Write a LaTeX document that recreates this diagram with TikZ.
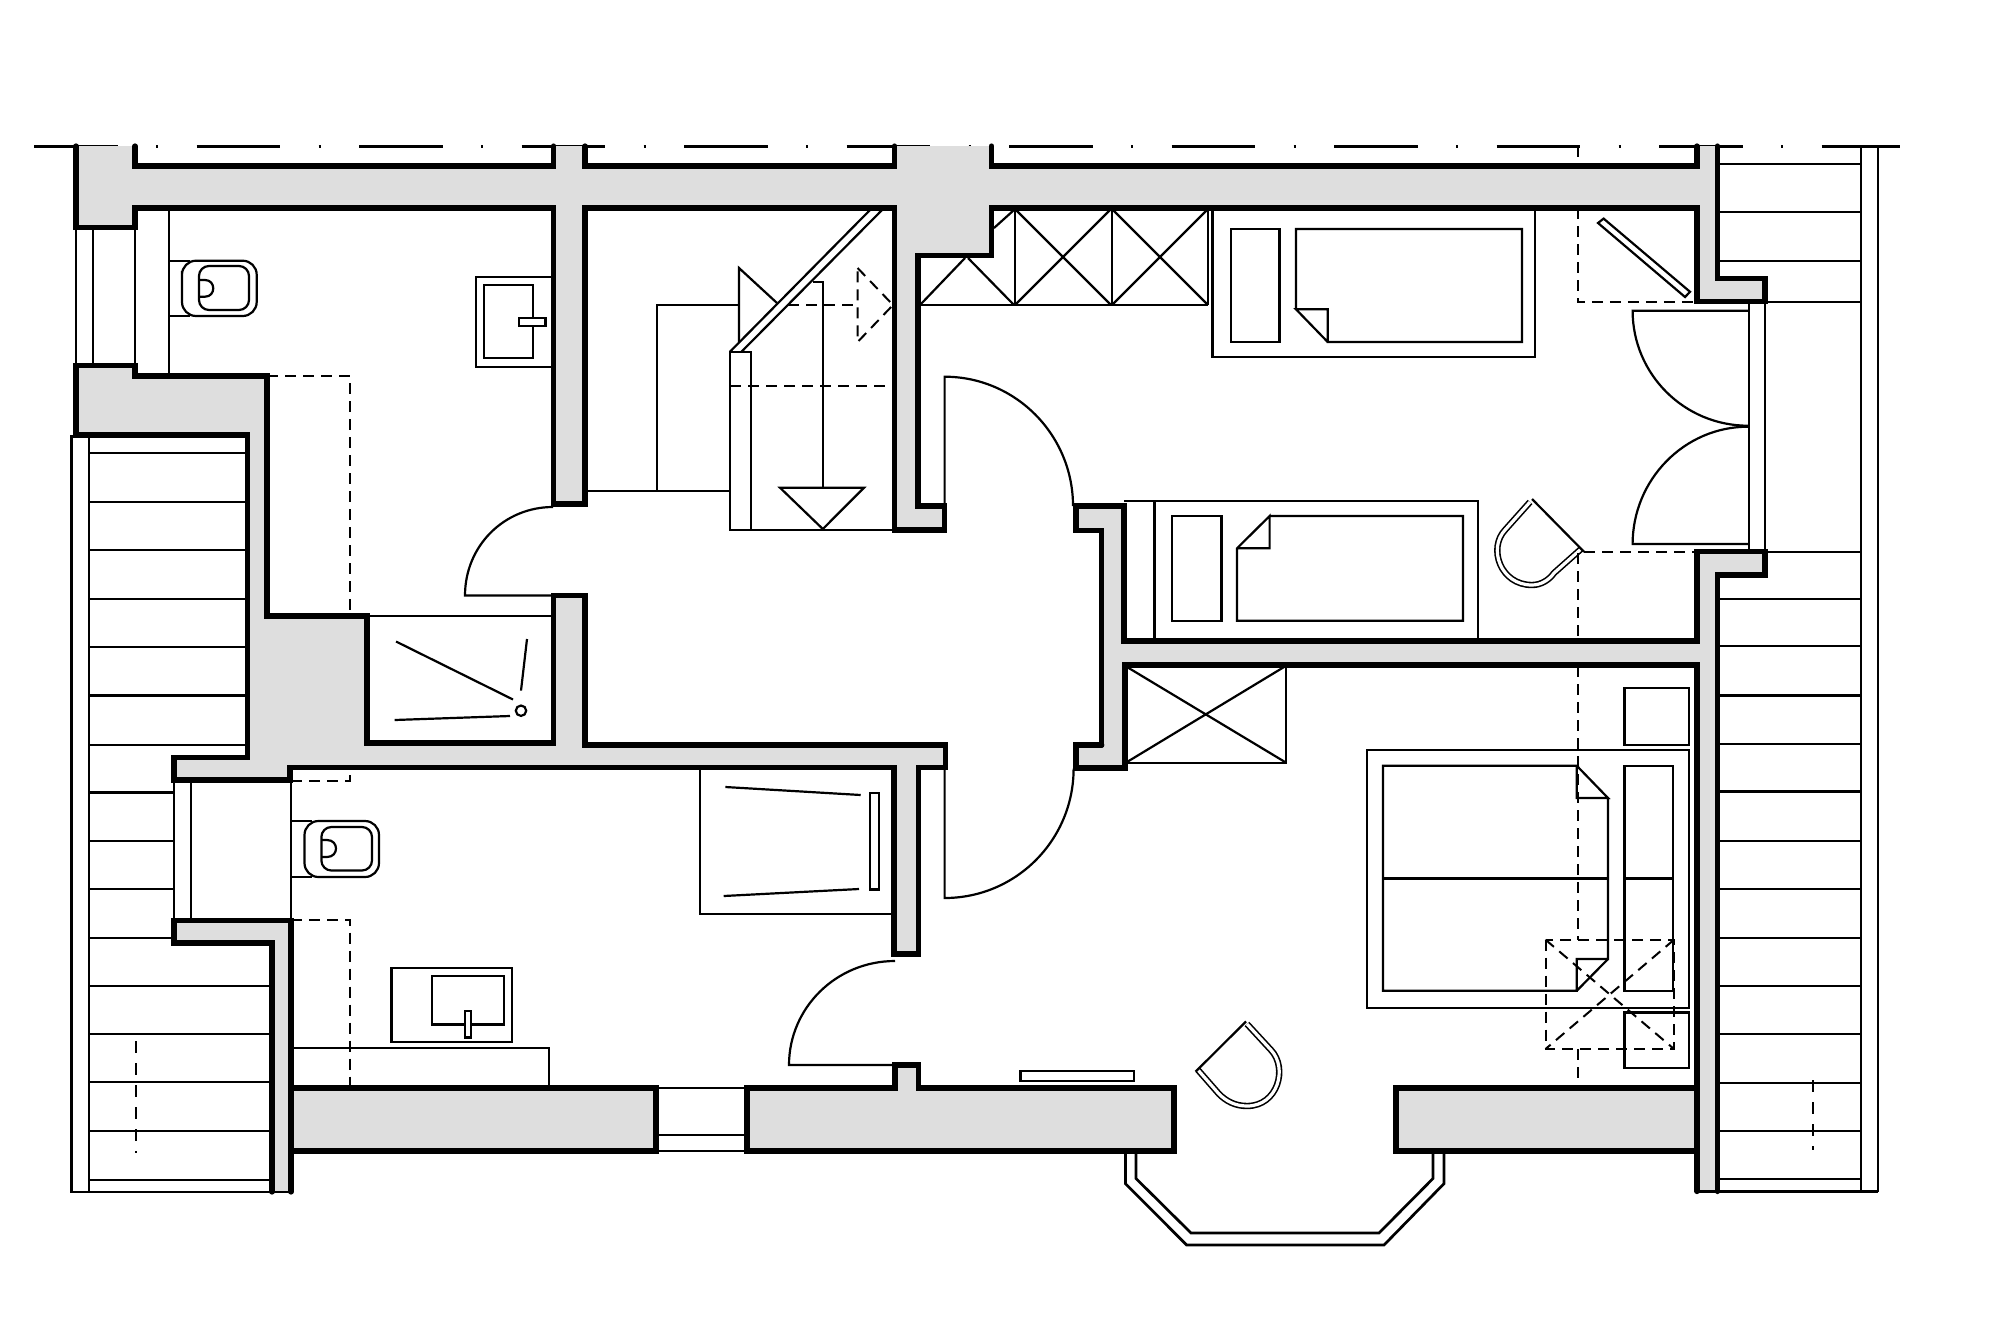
\documentclass[tikz,border=0pt]{standalone}
\definecolor{wallgray}{HTML}{DEDEDE}
\tikzset{
  wall/.style={line width=2.6pt,line cap=round,line join=miter},
  mid/.style={line width=1.35pt},
  thin/.style={line width=1.1pt,line join=miter},
  dsh/.style={line width=1pt,dash pattern=on 5.5pt off 3.5pt},
  dbl/.style={line width=0.8pt,double,double distance=1.6pt},
  wallfill/.style={fill=wallgray,draw=none}
}
\begin{document}
\begin{tikzpicture}[x=0.5pt,y=-0.5pt]
\useasboundingbox (0,0) rectangle (2000,1333);
% axis line
\draw[thin,dash pattern=on 41.75pt off 19.25pt on 1pt off 19.25pt] (34,146.5) -- (1900,146.5);
% wall fills
\path[wallfill] (76,146)--(135,146)--(135,166)--(553.6,166)--(553.6,146)--(585,146)--(585,166)--(894.6,166)--(894.6,146)--(991.5,146)--(991.5,166)--(1697,166)--(1697,146)--(1717.4,146)--(1717.4,278.6)--(1765,278.6)--(1765,301.8)--(1697,301.8)--(1697,208)--(991.5,208)--(991.5,255.7)--(918,255.7)--(918,506)--(944.6,506)--(944.6,530)--(894.6,530)--(894.6,208)--(585,208)--(585,504)--(553.6,504)--(553.6,208)--(135,208)--(135,227.7)--(76,227.7)--cycle;
\path[wallfill] (76,365.7)--(135,365.7)--(135,376)--(267,376)--(267,616)--(367,616)--(367,743)--(553.6,743)--(553.6,595.5)--(585,595.5)--(585,745)--(945.5,745)--(945.5,767.8)--(918.7,767.8)--(918.7,954)--(894,954)--(894,767.8)--(290,767.8)--(290,780)--(174,780)--(174,757.6)--(247.3,757.6)--(247.3,435)--(76,435)--cycle;
\path[wallfill] (174,920.5)--(291,920.5)--(291,1192)--(272,1192)--(272,943)--(174,943)--cycle;
\path[wallfill] (291,1088) rectangle (656,1151);
\path[wallfill] (747,1088)--(895,1088)--(895,1065)--(918.7,1065)--(918.7,1088)--(1174,1088)--(1174,1151)--(747,1151)--cycle;
\path[wallfill] (1396,1088) rectangle (1697,1151);
\path[wallfill] (1076,506)--(1124,506)--(1124,641)--(1697,641)--(1697,551.8)--(1765,551.8)--(1765,575)--(1717.4,575)--(1717.4,1191.5)--(1697,1191.5)--(1697,665)--(1125,665)--(1125,768)--(1076,768)--(1076,745)--(1101.8,745)--(1101.8,530.7)--(1076,530.7)--cycle;
% wall strokes
\draw[wall] (76,146)--(76,227.7)--(135,227.7)--(135,208)--(553.6,208)--(553.6,504)--(585,504)--(585,208)--(894.6,208)--(894.6,530)--(944.6,530)--(944.6,506)--(918,506)--(918,255.7)--(991.5,255.7)--(991.5,208)--(1697,208)--(1697,301.8)--(1765,301.8)--(1765,278.6)--(1717.4,278.6)--(1717.4,146);
\draw[wall] (135,146)--(135,166)--(553.6,166)--(553.6,146);
\draw[wall] (585,146)--(585,166)--(894.6,166)--(894.6,146);
\draw[wall] (991.5,146)--(991.5,166)--(1697,166)--(1697,146);
\draw[wall] (135,376)--(135,365.7)--(76,365.7)--(76,435)--(247.3,435)--(247.3,757.6)--(174,757.6)--(174,780)--(290,780)--(290,767.8)--(894,767.8)--(894,954)--(918.7,954)--(918.7,767.8)--(945.5,767.8)--(945.5,745)--(585,745)--(585,595.5)--(553.6,595.5)--(553.6,743)--(367,743)--(367,616)--(267,616)--(267,376)--cycle;
\draw[wall] (291,1192)--(291,920.5)--(174,920.5)--(174,943)--(272,943)--(272,1192);
\draw[wall] (291,1088) rectangle (656,1151);
\draw[wall] (747,1088)--(895,1088)--(895,1065)--(918.7,1065)--(918.7,1088)--(1174,1088)--(1174,1151)--(747,1151)--cycle;
\draw[wall] (1697,1088)--(1396,1088)--(1396,1151)--(1697,1151);
\draw[wall] (1101.8,745)--(1076,745)--(1076,768)--(1125,768)--(1125,665)--(1697,665)--(1697,1191.5);
\draw[wall] (1101.8,745)--(1101.8,530.7)--(1076,530.7)--(1076,506)--(1124,506)--(1124,641)--(1697,641)--(1697,551.8)--(1765,551.8)--(1765,575)--(1717.4,575)--(1717.4,1191.5);
% windows
\draw[thin] (76,227.7)--(76,365.7) (93,227.7)--(93,365.7);
\draw[mid] (135,208)--(135,376);
\draw[thin] (169,208)--(169,376);
\draw[mid] (174,780)--(174,920.5) (191,780)--(191,920.5);
\draw[thin] (291,780)--(291,920.5);
\draw[thin] (656,1088)--(748,1088) (656,1135)--(748,1135) (656,1151)--(748,1151);
\draw[thin] (1748.7,301.8)--(1748.7,551.8);
\draw[mid] (1765,301.8)--(1765,551.8);
% roof, left
\draw[thin] (71.4,435)--(71.4,1192)--(291,1192);
\draw[mid] (89,435)--(89,1192);
\draw[thin] (89,453)--(247,453) (89,502)--(247,502) (89,550)--(247,550) (89,599)--(247,599) (89,647)--(247,647) (89,695.5)--(247,695.5) (89,744.6)--(247,744.6);
\draw[thin] (89,792.4)--(174,792.4) (89,841)--(174,841) (89,889)--(174,889) (89,938)--(174,938);
\draw[thin] (89,986)--(272,986) (89,1034)--(272,1034) (89,1082)--(272,1082) (89,1131)--(272,1131) (89,1180)--(272,1180);
\draw[dsh,dash pattern=on 6pt off 5pt] (136,1041)--(136,1153);
% roof, right
\draw[mid] (1861,146)--(1861,1191.5);
\draw[mid] (1878,146)--(1878,1191.5);
\draw[thin] (1697,1191.5)--(1878,1191.5);
\draw[thin] (1717,163.6)--(1861,163.6) (1717,211.8)--(1861,211.8) (1717,260.7)--(1861,260.7) (1765,301.8)--(1861,301.8) (1765,551.8)--(1861,551.8) (1717,599)--(1861,599) (1717,646)--(1861,646) (1717,695.5)--(1861,695.5) (1717,744)--(1861,744) (1717,791.5)--(1861,791.5) (1717,841)--(1861,841) (1717,889)--(1861,889) (1717,937.7)--(1861,937.7) (1717,986)--(1861,986) (1717,1034)--(1861,1034) (1717,1083)--(1861,1083) (1717,1131)--(1861,1131) (1717,1179)--(1861,1179);
\draw[dsh,dash pattern=on 6pt off 5pt] (1812.5,1080)--(1812.5,1150);
% upper wc
\draw[thin] (169,260.7)--(190,260.7) (169,316)--(190,316);
\draw[thin,rounded corners=7pt] (182,285)--(182,260.7)--(256.7,260.7)--(256.7,316)--(182,316)--cycle;
\draw[thin,rounded corners=5pt] (199,266)--(249,266)--(249,310)--(199,310)--cycle;
\draw[thin] (199,280)--(205,280) .. controls (216,280) and (216,296.7) .. (205,296.7)--(199,296.7);
% upper basin
\draw[thin] (551,276.7)--(476,276.7)--(476,366.7)--(551,366.7);
\draw[thin] (484,285) rectangle (532.6,358);
\draw[thin,fill=white] (519,318) rectangle (545.5,325.7);
% dashed
\draw[dsh] (267,376)--(350,376)--(350,614);
% door 1
\draw[thin] (553,507) .. controls (504,507) and (465,546) .. (465,595.5)--(553,595.5);
\draw[thin] (367,616)--(553,616);
% shower
\draw[thin] (396,641.5)--(513,699.5) (527,639)--(521,690.6) (394.6,720)--(510,716);
\draw[thin] (521,710.7) circle (2.6pt);
% stairs
\draw[thin] (585,491)--(730,491);
\draw[thin] (656.7,491)--(656.7,305)--(739,305);
\draw[thin] (739,342)--(739,268)--(777,303);
\draw[thin] (871,209)--(730,351.7) (883,209)--(741.5,351.7);
\draw[thin] (730,351.7) rectangle (751,530);
\draw[thin] (751,530)--(894,530);
\draw[thin] (813,281.7)--(822.8,281.7)--(822.8,487.7);
\draw[thin] (780,487.7)--(864,487.7)--(822.8,529)--cycle;
\draw[dsh] (788,305)--(857.6,305);
\draw[dsh] (857.6,268)--(893,305)--(857.6,342)--cycle;
\draw[dsh] (730,385.7)--(894,385.7);
% wardrobe
\draw[thin] (918,305)--(1208,305);
\draw[thin] (1015,208)--(1015,305) (1112,208)--(1112,305) (1208,208)--(1208,305);
\draw[thin] (920,305)--(965,258) (968,258)--(1014,305) (994,228)--(1014,210);
\draw[thin] (1015,305)--(1110,210) (1016,210)--(1111,305) (1112,305)--(1207,210) (1113,210)--(1208,305);
% bed 1
\draw[thin] (1212.5,208)--(1212.5,356.7)--(1535,356.7)--(1535,208);
\draw[thin] (1231,229) rectangle (1279.5,341.7);
\draw[thin] (1296,309.3)--(1296,229)--(1522,229)--(1522,342)--(1327.7,342)--(1327.7,309.3)--(1296,309.3)--(1327.7,342);
% door 2
\draw[thin] (1073,506) .. controls (1073,435) and (1015.6,376.7) .. (944.6,376.7)--(944.6,506);
\draw[thin] (1073.6,768.6) .. controls (1073.6,840) and (1016,898) .. (944.6,898)--(944.6,768.6);
% bed 2
\draw[thin] (1124,501)--(1477.7,501)--(1477.7,641);
\draw[thin] (1154.5,501)--(1154.5,641);
\draw[thin] (1172,516) rectangle (1221.4,621);
\draw[thin] (1269.6,516)--(1463,516)--(1463,620.7)--(1237,620.7)--(1237,548.3)--(1269.6,516)--(1269.6,548.3)--(1237,548.3);
% right of bed 1
\draw[dsh] (1577.7,146)--(1577.7,166);
\draw[dsh] (1577.7,208)--(1577.7,301.8)--(1697,301.8);
\draw[thin] (1603.6,218.6)--(1690,291.8)--(1685,297)--(1598,223)--cycle;
% french doors
\draw[thin] (1748,310.7)--(1632.6,310.7) .. controls (1632.6,374) and (1684,425.7) .. (1748,425.7);
\draw[thin] (1748,544)--(1632.6,544) .. controls (1632.6,480) and (1684,426.7) .. (1748,426.7);
% chairs
\draw[dbl] (1530,502)--(1505,530) .. controls (1488,548) and (1500,585) .. (1532,585) .. controls (1541,585) and (1549,580) .. (1554,573)--(1581,549);
\draw[thin] (1532,499)--(1584,551.8);
\draw[dsh] (1584,551.8)--(1697,551.8);
\draw[dsh] (1577.7,553)--(1577.7,641);
\draw[dbl] (1247,1024)--(1271,1050) .. controls (1288,1068) and (1278,1106) .. (1247,1106) .. controls (1235,1106) and (1226,1101) .. (1219,1094)--(1198,1070);
\draw[thin] (1246,1021.5)--(1195.5,1071.7);
% lower shower
\draw[thin] (700,770)--(700,914)--(894,914);
\draw[thin] (725.4,787)--(860.7,795) (723.7,896)--(859,889);
\draw[thin] (869.6,793) rectangle (878.6,889.5);
% lower wc
\draw[thin] (291,821)--(312,821) (291,877)--(312,877);
\draw[thin,rounded corners=7pt] (304.5,850)--(304.5,821)--(379,821)--(379,877)--(304.5,877)--cycle;
\draw[thin,rounded corners=5pt] (321.4,827)--(372,827)--(372,870.5)--(321.4,870.5)--cycle;
\draw[thin] (321.4,840)--(327,840) .. controls (339,840) and (339,857) .. (327,857)--(321.4,857);
\draw[dsh] (291,781)--(350,781)--(350,769);
\draw[dsh] (291,919.6)--(350,919.6)--(350,1088);
% lower basin
\draw[thin] (391.5,968) rectangle (512,1042);
\draw[thin] (431.7,976) rectangle (504,1024.5);
\draw[thin,fill=white] (464.7,1011) rectangle (471,1037.5);
\draw[thin] (291,1047.8)--(549,1047.8)--(549,1088);
% door 3
\draw[thin] (895,961) .. controls (836,961) and (789,1008) .. (789,1065)--(895,1065);
% shelf
\draw[thin] (1020.5,1071.3) rectangle (1134,1081);
% bay
\draw[mid] (1125.4,1152)--(1125.4,1183.6)--(1186.6,1245)--(1384,1245)--(1444,1183.6)--(1444,1152);
\draw[mid] (1136,1152)--(1136,1178.5)--(1191,1233)--(1379,1233)--(1433,1178.5)--(1433,1152);
% closet
\draw[thin] (1286,665)--(1286,762.6)--(1125,762.6);
\draw[thin] (1127,667)--(1286,762.6) (1127,762)--(1284,667);
% bed 3
\draw[thin] (1367,749.6) rectangle (1689.3,1007.7);
\draw[thin] (1608,798)--(1608,959)--(1576.8,959)--(1576.8,990.7)--(1383,990.7)--(1383,765.8)--(1576.8,765.8)--(1608,798)--(1576.8,798)--(1576.8,765.8);
\draw[thin] (1608,959)--(1576.8,990.7);
\draw[thin] (1383,878.5)--(1608,878.5) (1624.5,878.5)--(1673,878.5);
\draw[thin] (1624.5,765.8) rectangle (1673,990.7);
\draw[thin] (1624.5,688) rectangle (1689.3,745);
\draw[thin] (1624.5,1012.5) rectangle (1689.3,1068);
% dashed square
\draw[dsh] (1545.5,939.7) rectangle (1674,1049);
\draw[dsh] (1545.5,939.7)--(1674,1049) (1674,939.7)--(1545.5,1049);
\draw[dsh] (1577.7,666)--(1577.7,939.7);
\draw[dsh] (1577.7,1049)--(1577.7,1087);
\end{tikzpicture}
\end{document}
